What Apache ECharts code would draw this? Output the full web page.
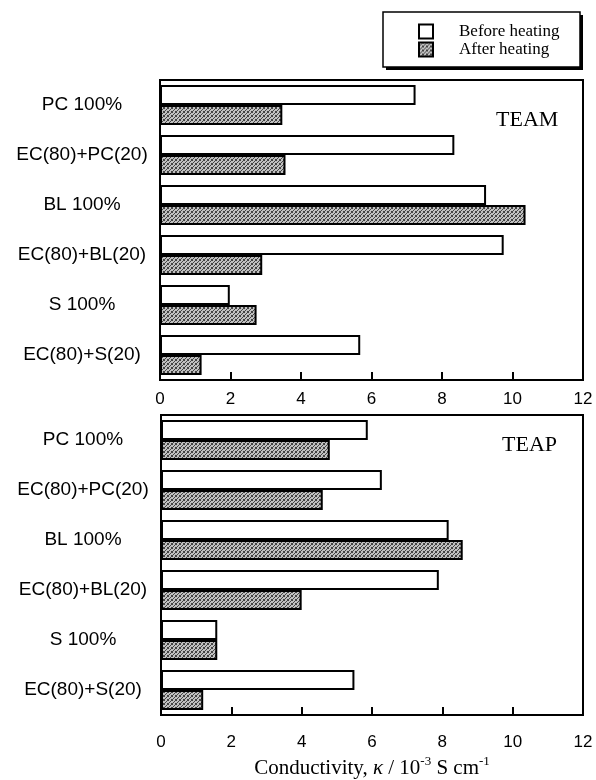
<!DOCTYPE html>
<html>
<head>
<meta charset="utf-8">
<script src="https://cdn.jsdelivr.net/npm/echarts@6/dist/echarts.min.js"></script>
<style>
  html, body { margin: 0; padding: 0; background: #fff; }
  #chart { width: 596px; height: 780px; }
</style>
</head>
<body>
<div id="chart"></div>
<script>
// Electrolyte solvents, top to bottom
const categories = ['PC 100%', 'EC(80)+PC(20)', 'BL 100%', 'EC(80)+BL(20)', 'S 100%', 'EC(80)+S(20)'];
// Conductivity, 10^-3 S/cm — TEAM salt
const teamBefore = [7.25, 8.35, 9.25, 9.75, 1.98, 5.68];
const teamAfter  = [3.47, 3.56, 10.37, 2.9, 2.74, 1.18];
// Conductivity, 10^-3 S/cm — TEAP salt
const teapBefore = [5.88, 6.28, 8.18, 7.9, 1.6, 5.5];
const teapAfter  = [4.8, 4.6, 8.58, 4.0, 1.6, 1.2];
const xTicks = [0, 2, 4, 6, 8, 10, 12];

// Stippled grey fill for the "after heating" bars
function stipple() {
  const c = document.createElement('canvas');
  c.width = 4; c.height = 4;
  const ctx = c.getContext('2d');
  ctx.fillStyle = '#c0c0c0';
  ctx.fillRect(0, 0, 4, 4);
  ctx.fillStyle = '#444';
  const dots = [[0,0],[2,1],[1,2],[3,3],[3,0],[0,3]];
  dots.forEach(([x, y]) => ctx.fillRect(x, y, 1, 1));
  return c;
}
const greyFill = { image: stipple(), repeat: 'repeat' };

const chart = echarts.init(document.getElementById('chart'), null, { renderer: 'canvas' });

const serif = '"Liberation Serif", "Times New Roman", serif';
const sans = '"Liberation Sans", Arial, sans-serif';

function xAxisFor(gridIndex, labelMargin, withName) {
  const ax = {
    type: 'value', gridIndex, min: xTicks[0], max: xTicks[xTicks.length - 1], interval: 2,
    axisLine: { show: true, lineStyle: { color: '#000', width: 2 } },
    axisTick: { show: true, inside: true, length: 8, lineStyle: { color: '#000', width: 2 } },
    splitLine: { show: false },
    axisLabel: { color: '#000', fontFamily: sans, fontSize: 17, margin: labelMargin,
      showMinLabel: true, showMaxLabel: true }
  };
  if (withName) {
    ax.name = '{t|Conductivity, }{k|κ}{t| / 10}{s|-3}{t| S cm}{s|-1}';
    ax.nameLocation = 'middle';
    ax.nameGap = 40;
    ax.nameTextStyle = {
      rich: {
        t: { fontFamily: serif, fontSize: 21, color: '#000', verticalAlign: 'bottom', lineHeight: 24 },
        k: { fontFamily: serif, fontSize: 21, fontStyle: 'italic', color: '#000', verticalAlign: 'bottom', lineHeight: 24 },
        s: { fontFamily: serif, fontSize: 13, color: '#000', verticalAlign: 'top', lineHeight: 24 }
      }
    };
  }
  return ax;
}

function yAxisFor(gridIndex) {
  return {
    type: 'category', gridIndex, data: categories, inverse: true,
    axisLine: { show: false }, axisTick: { show: false },
    axisLabel: { color: '#000', fontFamily: sans, fontSize: 19, align: 'center', margin: 78 }
  };
}

function barSeries(name, data, idx, fill) {
  return {
    name, type: 'bar', xAxisIndex: idx, yAxisIndex: idx, data,
    barGap: '0%', barCategoryGap: '20%',
    itemStyle: { color: fill, borderColor: '#000', borderWidth: 2 },
    silent: true, animation: false
  };
}

chart.setOption({
  animation: false,
  backgroundColor: '#fff',
  grid: [
    { left: 160, right: 13, top: 80, height: 300, show: true, borderColor: '#000', borderWidth: 2, backgroundColor: 'transparent' },
    { left: 161, right: 13, top: 415, height: 300, show: true, borderColor: '#000', borderWidth: 2, backgroundColor: 'transparent' }
  ],
  title: [
    { text: 'TEAM', left: 491, top: 104, textStyle: { fontFamily: serif, fontSize: 22, fontWeight: 'normal', color: '#000' } },
    { text: 'TEAP', left: 497, top: 429, textStyle: { fontFamily: serif, fontSize: 22, fontWeight: 'normal', color: '#000' } }
  ],
  // Legend frame with a solid drop shadow
  graphic: [
    { type: 'rect', z: 1, shape: { x: 386, y: 15, width: 197, height: 55 }, style: { fill: '#000' } },
    { type: 'rect', z: 2, shape: { x: 383, y: 12, width: 197, height: 55 }, style: { fill: '#fff', stroke: '#000', lineWidth: 1.5 } }
  ],
  legend: {
    orient: 'vertical', left: 383, top: 12, z: 10,
    padding: [11, 17, 10, 35],
    itemWidth: 14, itemHeight: 14, itemGap: 1,
    icon: 'rect',
    textStyle: { fontFamily: serif, fontSize: 17, color: '#000', padding: [0, 0, 0, 21] },
    data: ['Before heating', 'After heating'],
    selectedMode: false
  },
  xAxis: [xAxisFor(0, 11, false), xAxisFor(1, 19, true)],
  yAxis: [yAxisFor(0), yAxisFor(1)],
  series: [
    barSeries('Before heating', teamBefore, 0, '#fff'),
    barSeries('After heating', teamAfter, 0, greyFill),
    barSeries('Before heating', teapBefore, 1, '#fff'),
    barSeries('After heating', teapAfter, 1, greyFill)
  ]
});
</script>
</body>
</html>
